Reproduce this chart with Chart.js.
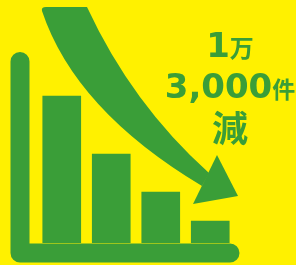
<!DOCTYPE html>
<html>
<head>
<meta charset="utf-8">
<script src="https://cdn.jsdelivr.net/npm/chart.js@4"></script>
<style>
  html, body { margin: 0; padding: 0; background: #FFF100; }
  #wrap { position: relative; width: 296px; height: 265px; }
</style>
</head>
<body>
<div id="wrap"><canvas id="dropChart" width="296" height="265"></canvas></div>
<script>
// --- data ---
const periods = ['1', '2', '3', '4'];
const counts = [147, 89, 51, 22];
const yMax = 191;
const labelLines = [
    [['1', 'bold 34px "DejaVu Sans"'], ['万', 'bold 24px "Noto Sans CJK JP"']],
    [['3,000', 'bold 34px "DejaVu Sans"'], ['件', 'bold 23px "Noto Sans CJK JP"']],
    [['減', 'bold 36px "Noto Sans CJK JP"']]
];

const GREEN = '#3A9E38';

// axes, arrow and caption drawn around the bars
const decor = {
    id: 'decor',
    beforeDatasetsDraw(chart) {
        const { ctx, chartArea: a } = chart;
        ctx.save();
        ctx.strokeStyle = GREEN;
        ctx.fillStyle = GREEN;
        ctx.lineWidth = 19;
        ctx.lineCap = 'round';
        ctx.lineJoin = 'round';
        ctx.beginPath();
        ctx.moveTo(a.left - 17, a.top + 9.5);
        ctx.lineTo(a.left - 17, a.bottom + 10);
        ctx.lineTo(a.right - 5, a.bottom + 10);
        ctx.stroke();

        // curved arrow shaft
        ctx.beginPath();
        ctx.moveTo(46, 7);
        ctx.lineTo(87, 7);
        ctx.quadraticCurveTo(132, 104, 209, 173);
        ctx.lineTo(202, 186);
        ctx.quadraticCurveTo(75, 110, 42, 11);
        ctx.quadraticCurveTo(41, 7, 46, 7);
        ctx.fill();
        // arrow head
        ctx.beginPath();
        ctx.moveTo(193, 204);
        ctx.lineTo(238, 196);
        ctx.lineTo(217, 155);
        ctx.closePath();
        ctx.fill();
        ctx.restore();
    },
    afterDraw(chart) {
        const { ctx } = chart;
        const baselines = [57, 98, 142];
        const cx = 230;
        ctx.save();
        ctx.fillStyle = GREEN;
        ctx.textBaseline = 'alphabetic';
        labelLines.forEach((parts, i) => {
            let w = 0;
            parts.forEach(([t, f]) => { ctx.font = f; w += ctx.measureText(t).width; });
            let x = cx - w / 2;
            parts.forEach(([t, f]) => {
                ctx.font = f;
                ctx.fillText(t, x, baselines[i]);
                x += ctx.measureText(t).width;
            });
        });
        ctx.restore();
    }
};

const ctx = document.getElementById('dropChart').getContext('2d');
new Chart(ctx, {
    type: 'bar',
    data: {
        labels: periods,
        datasets: [{
            data: counts,
            backgroundColor: GREEN,
            borderWidth: 0,
            barThickness: 38
        }]
    },
    options: {
        responsive: false,
        animation: false,
        devicePixelRatio: 1,
        layout: { padding: { left: 37, right: 61, top: 52, bottom: 22 } },
        plugins: { legend: { display: false }, tooltip: { enabled: false } },
        scales: {
            x: { display: false },
            y: { display: false, min: 0, max: yMax }
        }
    },
    plugins: [decor]
});
</script>
</body>
</html>
